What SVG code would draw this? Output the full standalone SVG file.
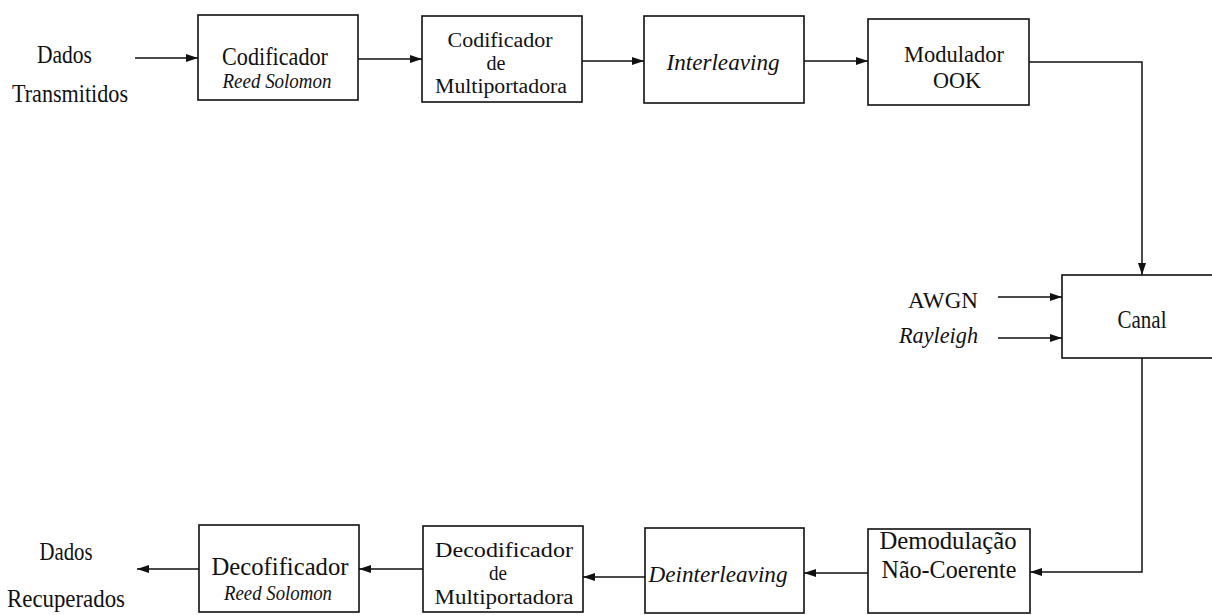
<svg xmlns="http://www.w3.org/2000/svg" width="1212" height="615" viewBox="0 0 1212 615" font-family="Liberation Serif, serif">
  <defs>
    <marker id="arrow" viewBox="0 0 12 8" refX="12" refY="4" markerWidth="12" markerHeight="8" markerUnits="userSpaceOnUse" orient="auto">
      <path d="M0,0 L12,4 L0,8 Z" fill="#111"/>
    </marker>
    <style>
      .box { fill: #fff; stroke: #111; stroke-width: 1.6; }
      .wire { fill: none; stroke: #111; stroke-width: 1.5; }
      .arr { marker-end: url(#arrow); }
      text { font-family: 'Liberation Serif', serif; fill: #111; }
      .t { font-size: 26px; text-anchor: middle; }
      .t2 { font-size: 23px; text-anchor: middle; }
      .t3 { font-size: 20px; text-anchor: middle; }
      .it { font-style: italic; text-anchor: middle; }
      .side { font-size: 23px; text-anchor: end; }
    </style>
  </defs>
  <rect width="1212" height="615" fill="#fff"/>

  <!-- input label -->
  <g id="in-label">
    <text class="t" x="64.5" y="63" textLength="55" lengthAdjust="spacingAndGlyphs">Dados</text>
    <text class="t" x="70" y="102" textLength="116" lengthAdjust="spacingAndGlyphs">Transmitidos</text>
  </g>

  <!-- transmitter chain -->
  <g id="rs-encoder">
    <rect class="box" x="198" y="15" width="160" height="85"/>
    <text class="t" x="275" y="65" textLength="106" lengthAdjust="spacingAndGlyphs">Codificador</text>
    <text class="it" x="277" y="88" font-size="20" textLength="109" lengthAdjust="spacingAndGlyphs">Reed Solomon</text>
  </g>
  <g id="mc-encoder">
    <rect class="box" x="422" y="16" width="160" height="86"/>
    <text class="t3" x="500" y="47" textLength="105" lengthAdjust="spacingAndGlyphs">Codificador</text>
    <text class="t3" x="496" y="70" textLength="19" lengthAdjust="spacingAndGlyphs">de</text>
    <text class="t3" x="501" y="93" textLength="132" lengthAdjust="spacingAndGlyphs">Multiportadora</text>
  </g>
  <g id="interleaver">
    <rect class="box" x="644" y="16" width="160" height="87"/>
    <text class="it" x="723" y="70" font-size="24" textLength="113" lengthAdjust="spacingAndGlyphs">Interleaving</text>
  </g>
  <g id="ook-modulator">
    <rect class="box" x="868" y="19" width="161" height="86"/>
    <text class="t2" x="954" y="62" textLength="100" lengthAdjust="spacingAndGlyphs">Modulador</text>
    <text class="t2" x="957" y="88" textLength="48" lengthAdjust="spacingAndGlyphs">OOK</text>
  </g>

  <!-- channel -->
  <g id="channel">
    <rect class="box" x="1062" y="275" width="160" height="83"/>
    <text class="t" x="1142" y="328" textLength="49" lengthAdjust="spacingAndGlyphs">Canal</text>
  </g>
  <g id="impairments">
    <text class="side" x="978" y="308" textLength="70" lengthAdjust="spacingAndGlyphs">AWGN</text>
    <text class="side" x="978" y="343" font-style="italic" font-size="22" textLength="79" lengthAdjust="spacingAndGlyphs">Rayleigh</text>
  </g>

  <!-- receiver chain -->
  <g id="noncoherent-demod">
    <rect class="box" x="868" y="529" width="162" height="84"/>
    <text class="t" x="948" y="549" textLength="137" lengthAdjust="spacingAndGlyphs">Demodulação</text>
    <text class="t" x="949" y="578" textLength="135" lengthAdjust="spacingAndGlyphs">Não-Coerente</text>
  </g>
  <g id="deinterleaver">
    <rect class="box" x="645" y="528" width="159" height="85"/>
    <text class="it" x="718" y="582" font-size="24" textLength="139" lengthAdjust="spacingAndGlyphs">Deinterleaving</text>
  </g>
  <g id="mc-decoder">
    <rect class="box" x="423" y="526" width="160" height="86"/>
    <text class="t3" x="504" y="557" textLength="138" lengthAdjust="spacingAndGlyphs">Decodificador</text>
    <text class="t3" x="498" y="580" textLength="18" lengthAdjust="spacingAndGlyphs">de</text>
    <text class="t3" x="504" y="604" textLength="139" lengthAdjust="spacingAndGlyphs">Multiportadora</text>
  </g>
  <g id="rs-decoder">
    <rect class="box" x="199" y="525" width="160" height="87"/>
    <text class="t" x="280" y="575" textLength="137" lengthAdjust="spacingAndGlyphs">Decofificador</text>
    <text class="it" x="278" y="600" font-size="20" textLength="108" lengthAdjust="spacingAndGlyphs">Reed Solomon</text>
  </g>

  <!-- output label -->
  <g id="out-label">
    <text class="t" x="66" y="560" textLength="53" lengthAdjust="spacingAndGlyphs">Dados</text>
    <text class="t" x="66" y="607" textLength="118" lengthAdjust="spacingAndGlyphs">Recuperados</text>
  </g>

  <!-- connectors -->
  <g id="connectors">
    <line class="wire arr" x1="135" y1="58" x2="198" y2="58"/>
    <line class="wire arr" x1="358" y1="59" x2="422" y2="59"/>
    <line class="wire arr" x1="582" y1="61" x2="644" y2="61"/>
    <line class="wire arr" x1="804" y1="61" x2="868" y2="61"/>
    <polyline class="wire arr" points="1029,62 1142,62 1142,275"/>
    <line class="wire arr" x1="998" y1="297" x2="1062" y2="297"/>
    <line class="wire arr" x1="998" y1="338" x2="1062" y2="338"/>
    <polyline class="wire arr" points="1142,358 1142,572 1030,572"/>
    <line class="wire arr" x1="868" y1="573" x2="804" y2="573"/>
    <line class="wire arr" x1="645" y1="577" x2="583" y2="577"/>
    <line class="wire arr" x1="423" y1="569" x2="359" y2="569"/>
    <line class="wire arr" x1="199" y1="569" x2="137" y2="569"/>
  </g>
</svg>
